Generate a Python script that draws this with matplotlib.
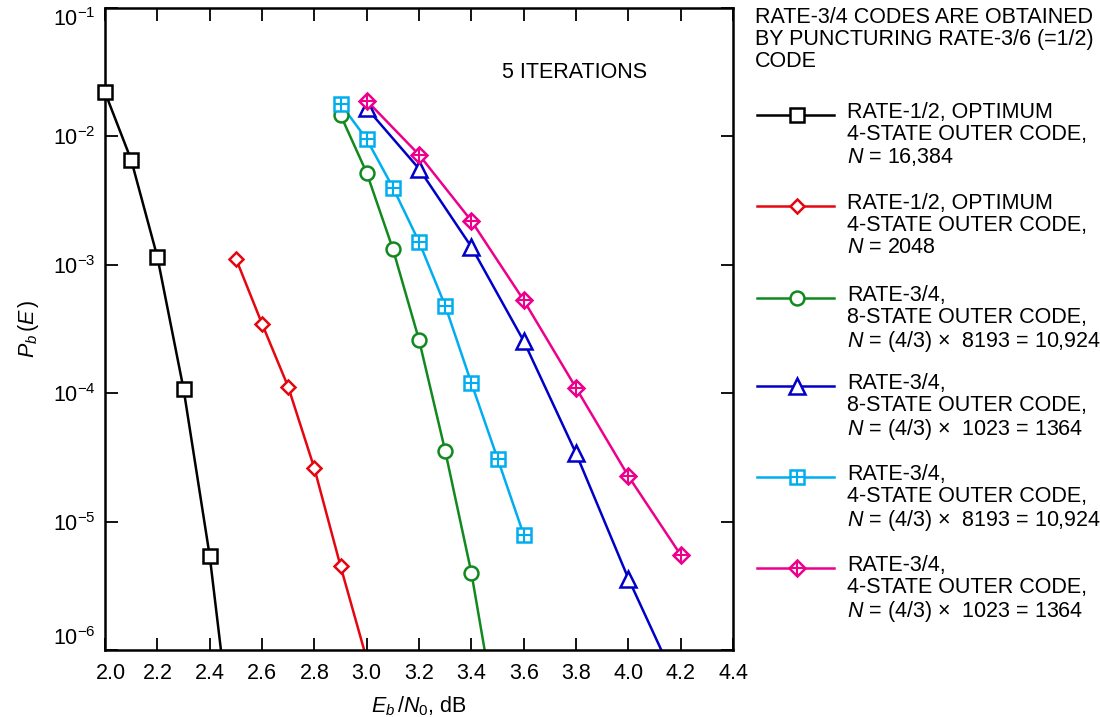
import matplotlib
matplotlib.use("Agg")
import matplotlib.pyplot as plt
import matplotlib.transforms as mtransforms
from matplotlib.lines import Line2D

plt.rcParams['font.family'] = ['Liberation Sans', 'DejaVu Sans']
plt.rcParams['mathtext.fontset'] = 'custom'
plt.rcParams['mathtext.rm'] = 'Liberation Sans'
plt.rcParams['mathtext.it'] = 'Liberation Sans:italic'
plt.rcParams['mathtext.default'] = 'regular'

# -------- DATA (Eb/N0 in dB, bit error probability) --------
# last value of some series lies below the plot floor: the curve runs off the bottom
x_r12_16384 = [2.0, 2.1, 2.2, 2.3, 2.4, 2.5]
y_r12_16384 = [2.2e-2, 6.55e-3, 1.15e-3, 1.08e-4, 5.4e-6, 1.06e-7]

x_r12_2048 = [2.5, 2.6, 2.7, 2.8, 2.9, 3.0]
y_r12_2048 = [1.12e-3, 3.47e-4, 1.12e-4, 2.6e-5, 4.5e-6, 8.5e-7]

x_r34_8s_10924 = [2.9, 3.0, 3.1, 3.2, 3.3, 3.4, 3.5]
y_r34_8s_10924 = [1.47e-2, 5.2e-3, 1.33e-3, 2.6e-4, 3.55e-5, 4.0e-6, 2.6e-7]

x_r34_8s_1364 = [3.0, 3.2, 3.4, 3.6, 3.8, 4.0, 4.2]
y_r34_8s_1364 = [1.66e-2, 5.6e-3, 1.38e-3, 2.55e-4, 3.4e-5, 3.6e-6, 4.7e-7]

x_r34_4s_10924 = [2.9, 3.0, 3.1, 3.2, 3.3, 3.4, 3.5, 3.6]
y_r34_4s_10924 = [1.79e-2, 9.5e-3, 4.0e-3, 1.51e-3, 4.8e-4, 1.2e-4, 3.1e-5, 7.9e-6]

x_r34_4s_1364 = [3.0, 3.2, 3.4, 3.6, 3.8, 4.0, 4.2]
y_r34_4s_1364 = [1.9e-2, 7.2e-3, 2.2e-3, 5.3e-4, 1.1e-4, 2.26e-5, 5.5e-6]

x_ticks = [2.0, 2.2, 2.4, 2.6, 2.8, 3.0, 3.2, 3.4, 3.6, 3.8, 4.0, 4.2, 4.4]
y_ticks = [1e-6, 1e-5, 1e-4, 1e-3, 1e-2, 1e-1]

labels = [
    "RATE-1/2, OPTIMUM\n4-STATE OUTER CODE,\n$\\it{N}$ = 16,384",
    "RATE-1/2, OPTIMUM\n4-STATE OUTER CODE,\n$\\it{N}$ = 2048",
    "RATE-3/4,\n8-STATE OUTER CODE,\n$\\it{N}$ = (4/3) $\\times$  8193 = 10,924",
    "RATE-3/4,\n8-STATE OUTER CODE,\n$\\it{N}$ = (4/3) $\\times$  1023 = 1364",
    "RATE-3/4,\n4-STATE OUTER CODE,\n$\\it{N}$ = (4/3) $\\times$  8193 = 10,924",
    "RATE-3/4,\n4-STATE OUTER CODE,\n$\\it{N}$ = (4/3) $\\times$  1023 = 1364",
]

BLACK = "#000000"
RED = "#e5060f"
GREEN = "#12891e"
BLUE = "#0000c8"
CYAN = "#00aeef"
MAGENTA = "#ec008c"

FS = 15.5
LW = 1.8
YMIN, YMAX = 1e-6, 1e-1

# (x, y, colour, marker, size, overlay marker, overlay size)
series = [
    (x_r12_16384, y_r12_16384, BLACK, 's', 10.0, None, 0),
    (x_r12_2048, y_r12_2048, RED, 'D', 7.3, None, 0),
    (x_r34_8s_10924, y_r34_8s_10924, GREEN, 'o', 10.0, None, 0),
    (x_r34_8s_1364, y_r34_8s_1364, BLUE, '^', 11.0, None, 0),
    (x_r34_4s_10924, y_r34_4s_10924, CYAN, 's', 10.0, '+', 10.0),
    (x_r34_4s_1364, y_r34_4s_1364, MAGENTA, 'D', 7.8, '+', 10.8),
]

fig = plt.figure(figsize=(11, 7.17), dpi=100)
ax = fig.add_axes([0.0955, 0.0934, 0.5709, 0.8954])

for xs, ys, col, mk, ms, mk2, ms2 in series:
    ax.plot(xs, ys, color=col, lw=LW)
    # markers only for points inside the plotted range, not clipped by the frame
    inside = [(a, b) for a, b in zip(xs, ys) if YMIN <= b <= YMAX]
    mx = [p[0] for p in inside]
    my = [p[1] for p in inside]
    ax.plot(mx, my, ls='none', marker=mk, ms=ms, mfc='white', mec=col,
            mew=LW, clip_on=False, zorder=3)
    if mk2:
        ax.plot(mx, my, ls='none', marker=mk2, ms=ms2, mec=col, mew=1.5,
                clip_on=False, zorder=4)

ax.set_yscale('log')
ax.set_xlim(2.0, 4.4)
ax.set_ylim(YMIN, YMAX)
ax.set_xticks(x_ticks)
ax.set_xticklabels([f"{v:.1f}" for v in x_ticks])
ax.set_yticks(y_ticks)
ax.yaxis.set_minor_locator(matplotlib.ticker.NullLocator())
ax.tick_params(which='major', direction='in', length=9, width=1.3,
               top=True, right=True, labelsize=FS)
ax.tick_params(axis='x', pad=9)
ax.tick_params(axis='y', pad=7)
for sp in ax.spines.values():
    sp.set_linewidth(1.8)

ylabs = ax.get_yticklabels()
ylabs[0].set_va('bottom')
ylabs[-1].set_va('top')
# first x label sits a little right of its tick, clear of the y labels
xlabs = ax.get_xticklabels()
xlabs[0].set_transform(xlabs[0].get_transform() +
                       mtransforms.ScaledTranslation(6 / 100, 0, fig.dpi_scale_trans))

ax.set_xlabel("$\\it{E_b}\\,/\\it{N}_0$, dB", fontsize=FS, labelpad=8)
ax.set_ylabel("$\\it{P_b}\\,(\\it{E}\\,)$", fontsize=FS, labelpad=8)

ax.text(0.748, 0.899, "5 ITERATIONS", transform=ax.transAxes,
        fontsize=FS, ha='center', va='center')

# -------- LEGEND (drawn by hand, handle next to first text line) --------
W, H = 1100.0, 717.0
fig.text(755 / W, 1 - 7 / H,
         "RATE-3/4 CODES ARE OBTAINED\nBY PUNCTURING RATE-3/6 (=1/2)\nCODE",
         fontsize=FS, ha='left', va='top', linespacing=1.05)

entry_y = [115, 206, 298, 386, 477, 568]
for (xs, ys, col, mk, ms, mk2, ms2), lab, yy in zip(series, labels, entry_y):
    fy = 1 - yy / H
    fig.add_artist(Line2D([757 / W, 834 / W], [fy, fy], color=col, lw=LW))
    fig.add_artist(Line2D([797 / W], [fy], ls='none', marker=mk, ms=ms,
                          mfc='white', mec=col, mew=LW))
    if mk2:
        fig.add_artist(Line2D([797 / W], [fy], ls='none', marker=mk2,
                              ms=ms2, mec=col, mew=1.5))
    fig.text(847 / W, fy + 13 / H, lab, fontsize=FS, ha='left', va='top',
             linespacing=1.05)

fig.savefig("out.png", dpi=100)
